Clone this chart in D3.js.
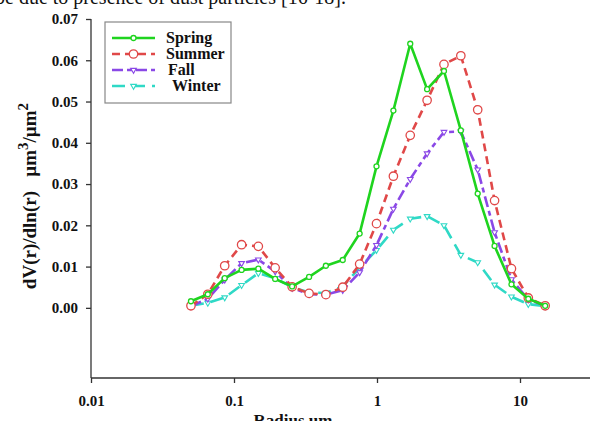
<!DOCTYPE html>
<html>
<head>
<meta charset="utf-8">
<script src="https://cdn.jsdelivr.net/npm/d3@7"></script>
<style>
  html, body { margin: 0; padding: 0; background: #fff; }
  svg { display: block; overflow: hidden; }
</style>
</head>
<body>
<svg id="chart" width="590" height="421"></svg>
<script>
// AERONET-style radius bins (µm)
const radius = [0.05, 0.0656, 0.0861, 0.113, 0.148, 0.194, 0.255, 0.335, 0.439, 0.576, 0.756,
                0.992, 1.302, 1.708, 2.241, 2.940, 3.857, 5.061, 6.641, 8.713, 11.432, 15.0];

// dV(r)/dln(r) per season
const spring = [0.0016, 0.0033, 0.0072, 0.0092, 0.0095, 0.0070, 0.0052, 0.0075, 0.0102, 0.0116, 0.0180,
                0.0343, 0.0478, 0.0640, 0.0530, 0.0574, 0.0430, 0.0277, 0.0150, 0.0057, 0.0022, 0.0005];
const summer = [0.0005, 0.0033, 0.0102, 0.0153, 0.0149, 0.0097, 0.0051, 0.0035, 0.0032, 0.0050, 0.0106,
                0.0204, 0.0319, 0.0418, 0.0503, 0.0590, 0.0611, 0.0480, 0.0260, 0.0095, 0.0024, 0.0005];
const fall   = [0.0004, 0.0022, 0.0068, 0.0108, 0.0117, 0.0088, 0.0048, 0.0033, 0.0032, 0.0043, 0.0086,
                0.0152, 0.0240, 0.0312, 0.0374, 0.0426, 0.0427, 0.0335, 0.0183, 0.0069, 0.0020, 0.0005];
const winter = [0.0005, 0.0012, 0.0025, 0.0055, 0.0084, 0.0072, 0.0050, 0.0037, 0.0036, 0.0052, 0.0097,
                0.0140, 0.0189, 0.0216, 0.0222, 0.0200, 0.0128, 0.0110, 0.0056, 0.0027, 0.0009, 0.0004];

const seasonNames = ["Spring", "Summer", "Fall", "Winter"];
const xTicks = [0.01, 0.1, 1, 10];
const xTickLabels = ["0.01", "0.1", "1", "10"];
const yTicks = [0, 0.01, 0.02, 0.03, 0.04, 0.05, 0.06, 0.07];

const series = [
  { name: seasonNames[0], values: spring, color: "#1fd41f", dash: null,          marker: "circle",   size: 2.5 },
  { name: seasonNames[1], values: summer, color: "#e04848", dash: "8,5",         marker: "circle",   size: 4.2 },
  { name: seasonNames[2], values: fall,   color: "#8a48e6", dash: "11,4,5,4",    marker: "triangle", size: 14 },
  { name: seasonNames[3], values: winter, color: "#2fd9c6", dash: "13,7",        marker: "triangle", size: 14 }
];

const svg = d3.select("#chart");
const serif = "'Liberation Serif', 'Times New Roman', serif";

// running text line above the figure
svg.append("text")
  .attr("x", -5).attr("y", 4)
  .attr("font-family", serif).attr("font-size", 20).attr("fill", "#111")
  .text("be due to presence of dust particles [16-18].");

const x = d3.scaleLog().domain([0.01, 100]).range([91, 663]);
const y = d3.scaleLinear().domain([-0.017, 0.07]).range([378, 19]);

// axes
const xAxis = svg.append("g").attr("transform", "translate(0,378)")
  .call(d3.axisBottom(x).tickValues(xTicks).tickFormat((d, i) => xTickLabels[i]).tickSize(5).tickPadding(12));
const yAxis = svg.append("g").attr("transform", "translate(91,0)")
  .call(d3.axisLeft(y).tickValues(yTicks).tickFormat(d3.format(".2f")).tickSize(5).tickPadding(8));

[xAxis, yAxis].forEach(g => {
  g.select(".domain").attr("stroke", "#333").attr("stroke-width", 1.3);
  g.selectAll(".tick line").attr("stroke", "#333").attr("stroke-width", 1.3);
  g.selectAll(".tick text").attr("font-family", serif).attr("font-weight", "bold")
    .attr("font-size", 15).attr("fill", "#111");
});
// plain axis lines without the end caps
xAxis.select(".domain").attr("d", `M91,0H663`);
yAxis.select(".domain").attr("d", `M0,${y(0.07)}V378`);

// axis titles
svg.append("text")
  .attr("x", 293).attr("y", 426).attr("text-anchor", "middle")
  .attr("font-family", serif).attr("font-weight", "bold").attr("font-size", 17).attr("fill", "#111")
  .text("Radius um");

const yt = svg.append("text")
  .attr("transform", "translate(36,196) rotate(-90)")
  .attr("text-anchor", "middle")
  .attr("font-family", serif).attr("font-weight", "bold").attr("font-size", 19).attr("fill", "#111")
  .attr("xml:space", "preserve").style("white-space", "pre");
yt.append("tspan").text("dV(r)/dln(r)   µm");
yt.append("tspan").attr("dy", -8).attr("font-size", 15).text("3");
yt.append("tspan").attr("dy", 8).text("/µm");
yt.append("tspan").attr("dy", -8).attr("font-size", 15).text("2");

// lines and markers
const line = d3.line().x((d, i) => x(radius[i])).y(d => y(d));
const tri = d3.symbol().type(d3.symbolTriangle);

function drawMarker(g, s, cx, cy) {
  if (s.marker === "circle") {
    g.append("circle").attr("cx", cx).attr("cy", cy).attr("r", s.size)
      .attr("fill", "#fff").attr("stroke", s.color).attr("stroke-width", 1.3);
  } else {
    g.append("path").attr("d", tri.size(s.size)())
      .attr("transform", `translate(${cx},${cy}) rotate(180)`)
      .attr("fill", "#fff").attr("stroke", s.color).attr("stroke-width", 1.1);
  }
}

series.slice().reverse().forEach(s => {
  const g = svg.append("g");
  g.append("path").datum(s.values).attr("d", line)
    .attr("fill", "none").attr("stroke", s.color).attr("stroke-width", 2.6)
    .attr("stroke-dasharray", s.dash).attr("stroke-linejoin", "round");
  s.values.forEach((v, i) => drawMarker(g, s, x(radius[i]), y(v)));
});

// legend
const lg = svg.append("g");
lg.append("rect").attr("x", 105).attr("y", 22).attr("width", 126).attr("height", 81)
  .attr("fill", "#fff").attr("stroke", "#888").attr("stroke-width", 1.2);
const legY = [38, 54, 70, 86];
const legTextX = [166, 166, 168, 172];
series.forEach((s, i) => {
  lg.append("line").attr("x1", 112).attr("x2", 155).attr("y1", legY[i]).attr("y2", legY[i])
    .attr("stroke", s.color).attr("stroke-width", 2.6).attr("stroke-dasharray", s.dash);
  drawMarker(lg, s, 133.5, legY[i]);
  lg.append("text").attr("x", legTextX[i]).attr("y", legY[i] + 5)
    .attr("font-family", serif).attr("font-weight", "bold").attr("font-size", 16).attr("fill", "#111")
    .text(s.name);
});
</script>
</body>
</html>
